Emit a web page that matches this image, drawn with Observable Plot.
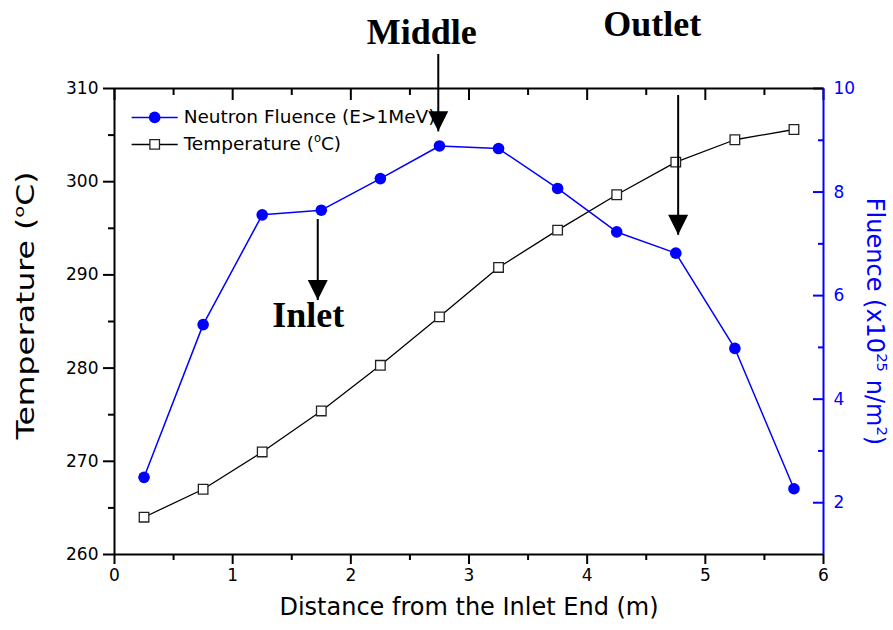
<!DOCTYPE html>
<html>
<head>
<meta charset="utf-8">
<script src="https://cdn.jsdelivr.net/npm/d3@7"></script>
<script src="https://cdn.jsdelivr.net/npm/@observablehq/plot@0.6"></script>
<style>
  html, body { margin: 0; padding: 0; background: #ffffff; }
  #chart { width: 893px; height: 630px; }
</style>
</head>
<body>
<div id="chart"></div>
<script>
// ---- data ----
const distance = [0.25, 0.75, 1.25, 1.75, 2.25, 2.75, 3.25, 3.75, 4.25, 4.75, 5.25, 5.75];
const temperature = [264.0, 267.0, 271.0, 275.4, 280.3, 285.5, 290.8, 294.8, 298.6, 302.1, 304.5, 305.6];
const fluence = [2.49, 5.44, 7.56, 7.65, 8.26, 8.89, 8.84, 8.07, 7.23, 6.82, 4.98, 2.27];

const xDomain = [0, 6];
const tempDomain = [260, 310];
const fluenceDomain = [1, 10];

const xTicks = [0, 1, 2, 3, 4, 5, 6];
const xMinorTicks = [0.5, 1.5, 2.5, 3.5, 4.5, 5.5];
const tempTicks = [260, 270, 280, 290, 300, 310];
const tempMinorTicks = [265, 275, 285, 295, 305];
const fluenceTicks = [2, 4, 6, 8, 10];
const fluenceMinorTicks = [3, 5, 7, 9];

const xLabel = "Distance from the Inlet End (m)";
const leftLabel = "Temperature (^{o}C)";
const rightLabel = "Fluence (x10^{25} n/m^{2})";
const seriesNames = ["Neutron Fluence (E>1MeV)", "Temperature (^{o}C)"];

// annotation arrows (x in m, y in the temperature scale)
const annotationLabels = ["Middle", "Inlet", "Outlet"];
const annotationArrowX = [2.74, 1.72, 4.77];
const annotationArrowTop = [313.7, 296.0, 309.3];
const annotationArrowTip = [305.4, 287.3, 294.3];
const annotationTextX = [2.60, 1.64, 4.55];
const annotationTextY = [314.75, 284.4, 315.6];

// legend placement (data units)
const legendLineX = [0.145, 0.535];
const legendMarkerX = 0.34;
const legendTextX = 0.585;
const legendRowY = [306.9, 304.0];

// ---- helpers ----
const BLUE = "#0000ff";
const toT = f => tempDomain[0] + (f - fluenceDomain[0]) * (tempDomain[1] - tempDomain[0]) / (fluenceDomain[1] - fluenceDomain[0]);
const fromT = t => fluenceDomain[0] + (t - tempDomain[0]) * (fluenceDomain[1] - fluenceDomain[0]) / (tempDomain[1] - tempDomain[0]);

const rows = distance.map((d, i) => ({distance: d, temperature: temperature[i], fluence: fluence[i]}));
const annotations = annotationLabels.map((label, i) => ({
  label, x: annotationArrowX[i], top: annotationArrowTop[i], tip: annotationArrowTip[i],
  tx: annotationTextX[i], ty: annotationTextY[i]
}));

const arrowHead = {
  draw(context, size) {
    const r = Math.sqrt(size / Math.PI);
    context.moveTo(0, 0);
    context.lineTo(-r, -2 * r);
    context.lineTo(r, -2 * r);
    context.closePath();
  }
};

const legendRows = [
  {name: seriesNames[0], y: legendRowY[0], kind: "fluence"},
  {name: seriesNames[1], y: legendRowY[1], kind: "temperature"}
];
const legendSegs = legendRows.map(r => ({...r, x1: legendLineX[0], x2: legendLineX[1]}));

const plot = Plot.plot({
  width: 893,
  height: 630,
  marginLeft: 114,
  marginRight: 70,
  marginTop: 88,
  marginBottom: 76,
  style: {fontFamily: "DejaVu Sans", fontSize: "17px", background: "#ffffff", color: "#000000", overflow: "visible"},
  x: {domain: xDomain},
  y: {domain: tempDomain},
  marks: [
    // bottom axis
    Plot.axisX({ticks: xTicks, tickFormat: d3.format("d"), tickSize: 10, tickPadding: 4, strokeWidth: 2, label: null, fontSize: 17}),
    Plot.axisX({ticks: xMinorTicks, tickSize: 6, strokeWidth: 2, tickFormat: () => "", label: null}),
    // top axis (inward ticks)
    Plot.axisX({anchor: "top", ticks: xTicks, tickSize: -11, strokeWidth: 2, tickFormat: () => "", label: null}),
    Plot.axisX({anchor: "top", ticks: xMinorTicks, tickSize: -6, strokeWidth: 2, tickFormat: () => "", label: null}),
    // left axis
    Plot.axisY({ticks: tempTicks, tickFormat: d3.format("d"), tickSize: 11, tickPadding: 5, strokeWidth: 2, label: null, fontSize: 17}),
    Plot.axisY({ticks: tempMinorTicks, tickSize: 6, strokeWidth: 2, tickFormat: () => "", label: null}),
    // right axis (fluence), inward ticks
    Plot.axisY({anchor: "right", ticks: fluenceTicks.map(toT), tickFormat: t => String(Math.round(fromT(t))),
      tickSize: 0, tickPadding: 10, stroke: BLUE, fill: BLUE, label: null, fontSize: 17}),
    Plot.axisY({anchor: "right", ticks: fluenceTicks.map(toT), tickSize: -11, strokeWidth: 2, stroke: BLUE, tickFormat: () => "", label: null}),
    Plot.axisY({anchor: "right", ticks: fluenceMinorTicks.map(toT), tickSize: -6, strokeWidth: 2, stroke: BLUE, tickFormat: () => "", label: null}),
    // frame
    Plot.ruleY([tempDomain[0]], {stroke: "#000", strokeWidth: 2}),
    Plot.ruleY([tempDomain[1]], {stroke: "#000", strokeWidth: 2}),
    Plot.ruleX([xDomain[0]], {stroke: "#000", strokeWidth: 2}),
    Plot.ruleX([xDomain[1]], {stroke: BLUE, strokeWidth: 2}),
    // axis titles
    Plot.text([xLabel], {frameAnchor: "bottom", dy: 53, fontSize: 24, lineAnchor: "middle", textAnchor: "middle"}),
    Plot.text([leftLabel], {frameAnchor: "left", dx: -88, dy: -16, rotate: -90, fontSize: 24, lineAnchor: "middle", textAnchor: "middle"}),
    Plot.text([rightLabel], {frameAnchor: "right", dx: 51, rotate: 90, fontSize: 24, lineAnchor: "middle", textAnchor: "middle", fill: BLUE}),
    // series
    Plot.line(rows, {x: "distance", y: d => toT(d.fluence), stroke: BLUE, strokeWidth: 1.5}),
    Plot.line(rows, {x: "distance", y: "temperature", stroke: "#000", strokeWidth: 1.3}),
    Plot.dot(rows, {x: "distance", y: d => toT(d.fluence), r: 5.8, fill: BLUE}),
    Plot.dot(rows, {x: "distance", y: "temperature", symbol: "square", r: 5.4, fill: "#fff", stroke: "#222", strokeWidth: 1.3}),
    // legend
    Plot.link(legendSegs, {x1: "x1", x2: "x2", y1: "y", y2: "y", stroke: d => d.kind === "fluence" ? BLUE : "#000", strokeWidth: 1.5}),
    Plot.dot(legendRows.filter(d => d.kind === "fluence"), {x: () => legendMarkerX, y: "y", r: 5.8, fill: BLUE}),
    Plot.dot(legendRows.filter(d => d.kind === "temperature"), {x: () => legendMarkerX, y: "y", symbol: "square", r: 5.4, fill: "#fff", stroke: "#222", strokeWidth: 1.3}),
    Plot.text(legendRows, {x: () => legendTextX, y: "y", text: "name", textAnchor: "start", fontSize: 18.5, lineAnchor: "middle"}),
    // annotations
    Plot.link(annotations, {x1: "x", x2: "x", y1: "top", y2: "tip", stroke: "#000", strokeWidth: 2}),
    Plot.dot(annotations, {x: "x", y: "tip", symbol: arrowHead, r: 10, fill: "#000"}),
    Plot.text(annotations, {x: "tx", y: "ty", text: "label", fontFamily: "Liberation Serif", fontWeight: "bold", fontSize: 36, lineAnchor: "bottom", textAnchor: "middle"})
  ]
});

// render ^{...} as superscripts
function applySuperscripts(root) {
  const ns = "http://www.w3.org/2000/svg";
  root.querySelectorAll("text").forEach(t => {
    const s = t.textContent;
    if (!s.includes("^{")) return;
    t.setAttribute("data-raw", s);
    while (t.firstChild) t.removeChild(t.firstChild);
    const re = /\^\{([^}]*)\}/g;
    let last = 0, m, afterSup = false;
    const add = (str, sup) => {
      if (!str) return;
      const ts = document.createElementNS(ns, "tspan");
      ts.textContent = str;
      if (sup) { ts.setAttribute("font-size", "62%"); ts.setAttribute("dy", "-0.7em"); }
      else if (afterSup) { ts.setAttribute("dy", "0.434em"); }
      afterSup = sup;
      t.appendChild(ts);
    };
    while ((m = re.exec(s))) { add(s.slice(last, m.index), false); add(m[1], true); last = re.lastIndex; }
    add(s.slice(last), false);
  });
}

document.getElementById("chart").appendChild(plot);
applySuperscripts(plot);
// the reference's left title is drawn longer than its glyph height suggests
plot.querySelectorAll("text[data-raw]").forEach(t => {
  if (t.getAttribute("data-raw") === leftLabel && (t.getAttribute("transform") || "").includes("rotate")) {
    t.setAttribute("textLength", "268");
    t.setAttribute("lengthAdjust", "spacingAndGlyphs");
  }
});
</script>
</body>
</html>
